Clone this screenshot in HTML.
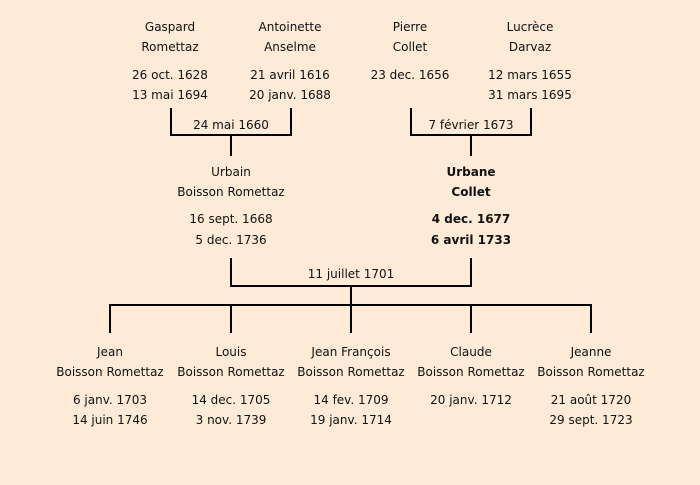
<!DOCTYPE html>
<html><head><meta charset="utf-8"><style>
html,body{margin:0;padding:0;background:#fdebd7;}
svg{display:block}
text{font-family:"DejaVu Sans","Liberation Sans",sans-serif;font-size:12px;fill:#111;text-anchor:middle;dominant-baseline:central}
.b{font-weight:bold}
</style></head><body>
<svg width="700" height="485" viewBox="0 0 700 485">
<rect width="700" height="485" fill="#fdebd7"/>
<g stroke="#000" stroke-width="2" fill="none">
<polyline points="171,108 171,135 291,135 291,108"/>
<line x1="231" y1="135" x2="231" y2="156"/>
<polyline points="411,108 411,135 531,135 531,108"/>
<line x1="471" y1="135" x2="471" y2="156"/>
<polyline points="231,258 231,286 471,286 471,258"/>
<line x1="351" y1="286" x2="351" y2="305"/>
<line x1="110" y1="305" x2="592" y2="305"/>
<line x1="110" y1="304" x2="110" y2="333"/>
<line x1="231" y1="304" x2="231" y2="333"/>
<line x1="351" y1="304" x2="351" y2="333"/>
<line x1="471" y1="304" x2="471" y2="333"/>
<line x1="591" y1="304" x2="591" y2="333"/>
</g>
<text x="170" y="27">Gaspard</text><text x="170" y="47">Romettaz</text>
<text x="170" y="75">26 oct. 1628</text><text x="170" y="95">13 mai 1694</text>
<text x="290" y="27">Antoinette</text><text x="290" y="47">Anselme</text>
<text x="290" y="75">21 avril 1616</text><text x="290" y="95">20 janv. 1688</text>
<text x="410" y="27">Pierre</text><text x="410" y="47">Collet</text>
<text x="410" y="75">23 dec. 1656</text>
<text x="530" y="27">Lucrèce</text><text x="530" y="47">Darvaz</text>
<text x="530" y="75">12 mars 1655</text><text x="530" y="95">31 mars 1695</text>
<text x="231" y="125">24 mai 1660</text>
<text x="471" y="125">7 février 1673</text>
<text x="231" y="172">Urbain</text><text x="231" y="192">Boisson Romettaz</text>
<text x="231" y="219">16 sept. 1668</text><text x="231" y="240">5 dec. 1736</text>
<text class="b" x="471" y="172">Urbane</text><text class="b" x="471" y="192">Collet</text>
<text class="b" x="471" y="219">4 dec. 1677</text><text class="b" x="471" y="240">6 avril 1733</text>
<text x="351" y="274">11 juillet 1701</text>
<text x="110" y="352">Jean</text><text x="110" y="372">Boisson Romettaz</text>
<text x="110" y="400">6 janv. 1703</text><text x="110" y="420">14 juin 1746</text>
<text x="231" y="352">Louis</text><text x="231" y="372">Boisson Romettaz</text>
<text x="231" y="400">14 dec. 1705</text><text x="231" y="420">3 nov. 1739</text>
<text x="351" y="352">Jean François</text><text x="351" y="372">Boisson Romettaz</text>
<text x="351" y="400">14 fev. 1709</text><text x="351" y="420">19 janv. 1714</text>
<text x="471" y="352">Claude</text><text x="471" y="372">Boisson Romettaz</text>
<text x="471" y="400">20 janv. 1712</text>
<text x="591" y="352">Jeanne</text><text x="591" y="372">Boisson Romettaz</text>
<text x="591" y="400">21 août 1720</text><text x="591" y="420">29 sept. 1723</text>
</svg>
</body></html>
